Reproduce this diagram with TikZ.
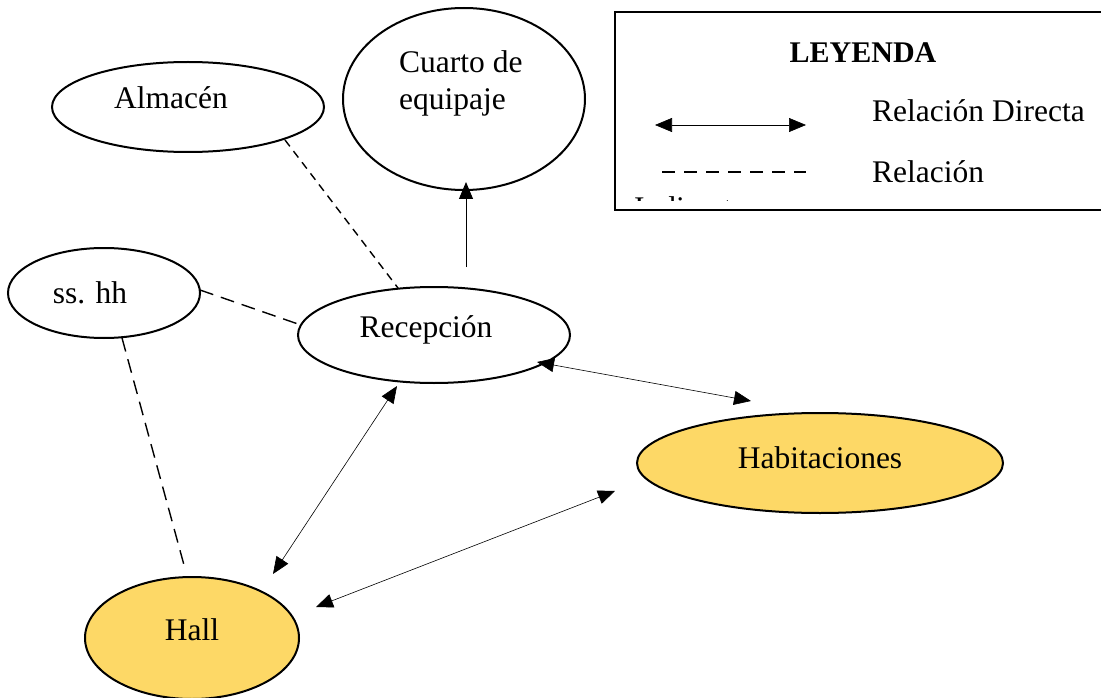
\documentclass[tikz,border=0pt]{standalone}
\usepackage{fontspec}
\setmainfont{Liberation Serif}
\usetikzlibrary{arrows.meta,shapes.geometric}
\definecolor{hallyellow}{HTML}{FDD866}
\tikzset{
  place/.style={ellipse, draw=black, line width=2pt, inner sep=0pt},
  hot/.style={place, fill=hallyellow},
  lbl/.style={font=\fontsize{31.5}{40}\selectfont, inner sep=0pt},
  tip/.tip={Triangle[length=17pt,width=14pt]},
  direct/.style={line width=0.6pt, tip-tip},
  oneway/.style={line width=1pt, -tip},
  shortdash/.style={line width=1.4pt, dash pattern=on 8pt off 6pt},
  longdash/.style={line width=1.4pt, dash pattern=on 14pt off 8pt},
  legtext/.style={lbl, anchor=west},
}
\begin{document}
\begin{tikzpicture}[x=1pt,y=-1pt]
\useasboundingbox (0,0) rectangle (1101,698);
\clip (0,0) rectangle (1101,698);
% shapes
\node[place, minimum width=272pt, minimum height=90pt] (alm) at (188,107) {};
\node[place, minimum width=242pt, minimum height=182pt] (cua) at (464,99) {};
\node[place, minimum width=192pt, minimum height=90pt] (ssh) at (104,293) {};
\node[place, minimum width=272pt, minimum height=96pt] (rec) at (434,335) {};
\node[hot, minimum width=366pt, minimum height=100pt] (hab) at (820,463) {};
\node[hot, minimum width=214pt, minimum height=122pt] (hall) at (192,638) {};
% texts
\node[lbl] (almT) at (171,98) {Almac\'en};
\node[lbl, anchor=west] (cuaT1) at (399,62) {Cuarto de};
\node[lbl, anchor=west] (cuaT2) at (399,102) {equipaje};
\node[lbl] (sshT) at (90,293) {ss. hh};
\node[lbl] (recT) at (426,330) {Recepci\'on};
\node[lbl] (habT) at (820,458) {Habitaciones};
\node[lbl] (hallT) at (192,630) {Hall};
% free ends of the connectors
\coordinate (a1) at (285,140); \coordinate (a2) at (398,288);
\coordinate (s1) at (200,290); \coordinate (s2) at (298,324);
\coordinate (s3) at (122,338); \coordinate (s4) at (184,565);
\coordinate (c1) at (466,267); \coordinate (c2) at (466,182);
\coordinate (r1) at (397,386); \coordinate (h1) at (273,574);
\coordinate (r2) at (537,362); \coordinate (b1) at (751,401);
\coordinate (h2) at (316,607); \coordinate (b2) at (615,491);
% connectors
\draw[shortdash] (a1) -- (a2);
\draw[longdash] (s1) -- (s2);
\draw[longdash] (s3) -- (s4);
\draw[oneway] (c1) -- (c2);
\draw[direct] (r1) -- (h1);
\draw[direct] (r2) -- (b1);
\draw[direct] (h2) -- (b2);
% legend
\draw[line width=2pt] (1110,12) -- (615,12) -- (615,210) -- (1110,210);
\node[font=\bfseries\fontsize{30}{36}\selectfont] (leg) at (863,53) {LEYENDA};
\coordinate (l1) at (655,125); \coordinate (l2) at (806,125);
\draw[direct] (l1) -- (l2);
\coordinate (l3) at (662,172); \coordinate (l4) at (806,172);
\draw[longdash, dash pattern=on 13pt off 9pt] (l3) -- (l4);
\node[legtext] (t1) at (872,111) {Relaci\'on Directa};
\node[legtext] (t2) at (872,172) {Relaci\'on};
\begin{scope}
\clip (616,197) rectangle (1101,201);
\node[legtext] (t3) at (634,208) {Indirecta};
\end{scope}
\end{tikzpicture}
\end{document}
